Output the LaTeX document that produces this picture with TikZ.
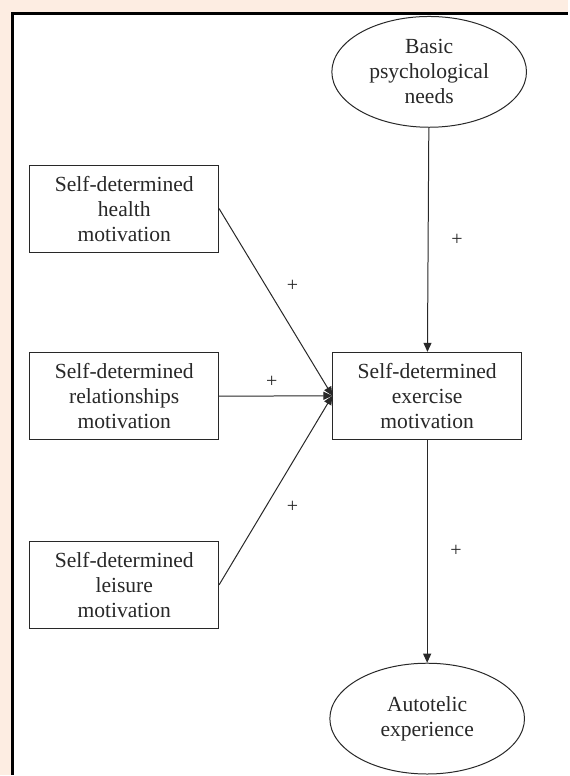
\documentclass[tikz,border=0pt]{standalone}
\usepackage{fontspec}
\setmainfont{Liberation Serif}
\usetikzlibrary{shapes.geometric,arrows.meta,positioning}
\definecolor{peach}{RGB}{253,237,226}
\definecolor{ink}{RGB}{40,40,40}

\begin{document}
\begin{tikzpicture}[
      x=0.5pt, y=-0.5pt,
      every node/.style={font=\fontsize{10.8}{12.5}\selectfont, text=ink},
      box/.style={draw=ink, line width=0.5pt, align=center, inner sep=0pt,
        minimum width=94.5pt, minimum height=43.5pt},
      oval/.style={draw=ink, line width=0.5pt, ellipse, align=center, inner sep=0pt,
        minimum width=97.5pt, minimum height=55.5pt},
      link/.style={draw=ink, line width=0.5pt, -{Triangle[length=4.5pt,width=4pt]}},
      sign/.style={font=\fontsize{10}{12}\selectfont},
    ]
    % frame
    \fill[peach] (0,0) rectangle (569,776);
    \fill[white] (13,14) rectangle (569,776);
    \draw[line width=1.5pt] (13,776) -- (13,14) -- (569,14);
    \useasboundingbox (0,0) rectangle (569,776);

    \node[oval] (needs) at (430, 72) {Basic\\psychological\\needs};
    \node[box] (exercise) at (428, 396.5) {Self-determined\\exercise\\motivation};
    \node[oval] (autotelic) at (428, 720) {Autotelic\\experience};

    \foreach \n/\y/\name in {health/209/health, relation/397/relationships, leisure/586/leisure} {
      \node[box] (\n) at (124.5, \y) {Self-determined\\\name\\motivation};
    }

    \draw[link] (needs) -- node[sign, right=8pt] {+} (exercise);
    \draw[link] (exercise) -- node[sign, right=8pt] {+} (autotelic);
    \draw[link] (health.east) -- node[sign, above right=2pt and 2pt] {+} (exercise.west);
    \draw[link] (relation.east) -- node[sign, above=0.5pt, xshift=-2pt] {+} (exercise.west);
    \draw[link] (leisure.east) -- node[sign, below right=2pt and 2pt] {+} (exercise.west);
  \end{tikzpicture}
\end{document}
